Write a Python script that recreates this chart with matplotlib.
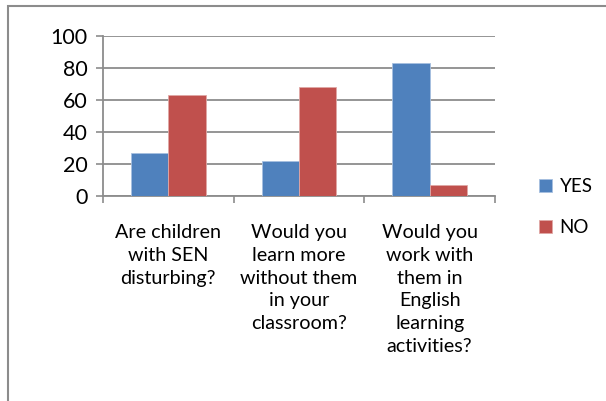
import numpy as np
import matplotlib
matplotlib.use("Agg")
import matplotlib.pyplot as plt
from matplotlib.patches import Rectangle

# data
categories = [
    "Are children\nwith SEN\ndisturbing?",
    "Would you\nlearn more\nwithout them\nin your\nclassroom?",
    "Would you\nwork with\nthem in\nEnglish\nlearning\nactivities?",
]
yes_values = [27, 22, 83]
no_values = [63, 68, 7]
series_names = ["YES", "NO"]
y_ticks = [0, 20, 40, 60, 80, 100]

BLUE = "#4F81BD"
RED = "#C0504D"
GRID = "#8C8C8C"

plt.rcParams["font.family"] = ["Lato", "DejaVu Sans"]

fig = plt.figure(figsize=(6.06, 4.01), dpi=100)
ax = fig.add_axes([103 / 606, 1 - 196 / 401, (495 - 103) / 606, 160 / 401])

x = np.arange(len(categories))
width = 0.285
ax.bar(x - width / 2, yes_values, width, color=BLUE, edgecolor="#A7C0E0",
       linewidth=0.6, label=series_names[0], zorder=3)
ax.bar(x + width / 2, no_values, width, color=RED, edgecolor="#E0A8A6",
       linewidth=0.6, label=series_names[1], zorder=3)

ax.set_xlim(-0.5, len(categories) - 0.5)
ax.set_ylim(0, 100)
ax.set_yticks(y_ticks)
ax.yaxis.grid(True, color=GRID, linewidth=1.3, zorder=0)

ax.set_xticks(x)
ax.set_xticklabels(categories, fontsize=14.2, linespacing=1.42, va="top")
ax.set_xticks(np.arange(len(categories) + 1) - 0.5, minor=True)
ax.tick_params(axis="x", which="major", length=0, pad=20)
ax.tick_params(axis="x", which="minor", length=5, width=1.2, color=GRID)
ax.tick_params(axis="y", length=5, width=1.2, color=GRID, labelsize=15.5, pad=6)

for side in ["top", "right"]:
    ax.spines[side].set_visible(False)
for side in ["left", "bottom"]:
    ax.spines[side].set_color(GRID)
    ax.spines[side].set_linewidth(1.3)

leg = fig.legend(loc="upper left", bbox_to_anchor=(522 / 606, 1 - 161 / 401),
                 frameon=False, fontsize=13.5, handlelength=0.7,
                 handleheight=0.7, handletextpad=0.4, labelspacing=1.3)

# outer chart border (right and bottom edges fall outside the picture)
fig.add_artist(Rectangle((8 / 606, -0.1), 1.2, 1 - 6 / 401 + 0.1,
                         transform=fig.transFigure, fill=False,
                         edgecolor="#8C8C8C", linewidth=1.5))

fig.savefig("out.png", dpi=100)
